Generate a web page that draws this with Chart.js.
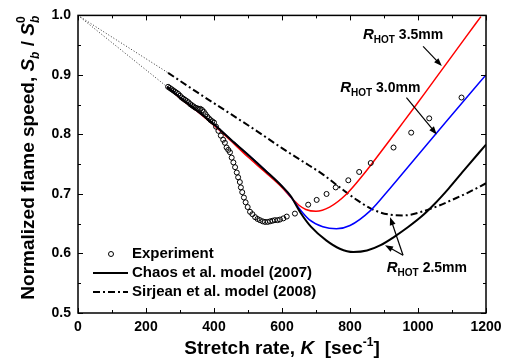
<!DOCTYPE html>
<html>
<head>
<meta charset="utf-8">
<script src="https://cdn.jsdelivr.net/npm/chart.js@4.4.0/dist/chart.umd.min.js"></script>
<style>
  html, body { margin: 0; padding: 0; background: #fff; }
  #wrap { width: 513px; height: 360px; }
</style>
</head>
<body>
<div id="wrap"><canvas id="chart" width="513" height="360"></canvas></div>
<script>
// experiment (circles)
var expK = [265, 270, 275, 280, 285, 290, 295, 300, 305, 310, 315, 320, 325, 330, 335, 340, 345, 350, 355, 360, 365, 370, 375, 380, 385, 390, 395, 400,
  406, 413, 420, 427, 432, 437, 442, 447, 452, 457, 462, 467, 471, 476, 479, 483, 488, 493, 499, 506, 513, 521, 528, 535, 543, 550, 558, 565, 572, 579, 587, 594, 604, 614, 638, 677, 702, 731, 758, 795, 827, 861, 928, 980, 1033, 1128];
var expV = [0.880, 0.878, 0.876, 0.874, 0.872, 0.870, 0.868, 0.865, 0.862, 0.860, 0.858, 0.856, 0.854, 0.851, 0.849, 0.847, 0.845, 0.844, 0.843, 0.843, 0.841, 0.838, 0.834, 0.830, 0.827, 0.824, 0.822, 0.820,
  0.813, 0.806, 0.798, 0.791, 0.786, 0.778, 0.774, 0.770, 0.761, 0.753, 0.745, 0.736, 0.728, 0.720, 0.711, 0.703, 0.694, 0.686, 0.678, 0.670, 0.666, 0.661, 0.658, 0.656, 0.654, 0.653, 0.653, 0.654, 0.655, 0.656, 0.656, 0.657, 0.659, 0.662, 0.667, 0.682, 0.690, 0.700, 0.711, 0.723, 0.737, 0.752, 0.778, 0.803, 0.827, 0.862];

// Chaos et al. model, R_HOT 2.5mm (black)
var chaosK = [262, 300, 350, 400, 450, 500, 550, 600, 625, 655, 685, 730, 770, 810, 850, 890, 930, 970, 1010, 1050, 1090, 1140, 1200];
var chaosV = [0.880, 0.862, 0.840, 0.817, 0.791, 0.766, 0.740, 0.713, 0.697, 0.668, 0.645, 0.622, 0.608, 0.6025, 0.605, 0.614, 0.628, 0.644, 0.662, 0.684, 0.709, 0.743, 0.783];

// R_HOT 3.0mm (blue)
var r30K = [262, 300, 350, 400, 450, 500, 550, 600, 625, 650, 680, 720, 760, 800, 860, 920, 970, 1020, 1085, 1140, 1200];
var r30V = [0.880, 0.862, 0.840, 0.817, 0.791, 0.766, 0.740, 0.713, 0.696, 0.676, 0.657, 0.645, 0.6415, 0.647, 0.672, 0.711, 0.745, 0.779, 0.823, 0.860, 0.900];

// R_HOT 3.5mm (red)
var r35K = [262, 300, 350, 400, 450, 500, 550, 600, 625, 650, 670, 700, 740, 790, 840, 890, 940, 990, 1040, 1090, 1140, 1185];
var r35V = [0.880, 0.861, 0.839, 0.815, 0.789, 0.762, 0.737, 0.711, 0.695, 0.681, 0.674, 0.671, 0.678, 0.700, 0.733, 0.770, 0.808, 0.846, 0.885, 0.924, 0.963, 0.998];

// Sirjean et al. model (dash-dot)
var sirK = [265, 350, 450, 525, 600, 660, 720, 770, 820, 870, 920, 960, 1010, 1060, 1100, 1150, 1200];
var sirV = [0.9035, 0.871, 0.834, 0.806, 0.777, 0.755, 0.733, 0.711, 0.690, 0.673, 0.665, 0.664, 0.670, 0.680, 0.690, 0.703, 0.718];

// dotted extrapolations to 1.0 at K = 0
var extUpK = [0, 265];
var extUpV = [1.0, 0.9035];
var extLoK = [0, 262];
var extLoV = [1.0, 0.880];

var xTicks = [0, 200, 400, 600, 800, 1000, 1200];
var yTicks = [0.5, 0.6, 0.7, 0.8, 0.9, 1.0];

var FONT = '"Liberation Sans", Arial, sans-serif';

function pts(k, v) {
  var out = [];
  for (var i = 0; i < k.length; i++) out.push({x: k[i], y: v[i]});
  return out;
}

function lineSet(k, v, color, width, dash) {
  return {
    data: pts(k, v),
    showLine: true,
    borderColor: color,
    borderWidth: width,
    borderDash: dash || [],
    pointRadius: 0,
    cubicInterpolationMode: 'monotone',
    fill: false
  };
}

function arrow(ctx, x1, y1, x2, y2) {
  var a = Math.atan2(y2 - y1, x2 - x1);
  var hl = 8, hw = 3;
  ctx.beginPath();
  ctx.moveTo(x1, y1);
  ctx.lineTo(x2 - Math.cos(a) * hl * 0.8, y2 - Math.sin(a) * hl * 0.8);
  ctx.stroke();
  ctx.beginPath();
  ctx.moveTo(x2, y2);
  ctx.lineTo(x2 - Math.cos(a) * hl + Math.sin(a) * hw, y2 - Math.sin(a) * hl - Math.cos(a) * hw);
  ctx.lineTo(x2 - Math.cos(a) * hl - Math.sin(a) * hw, y2 - Math.sin(a) * hl + Math.cos(a) * hw);
  ctx.closePath();
  ctx.fill();
}

// R_HOT label: italic R, small HOT subscript, then the value
function rhot(ctx, x, y, txt) {
  ctx.textAlign = 'left';
  ctx.textBaseline = 'alphabetic';
  ctx.font = 'italic bold 15px ' + FONT;
  ctx.fillText('R', x, y);
  x += ctx.measureText('R').width;
  ctx.font = 'bold 10px ' + FONT;
  ctx.fillText('HOT', x, y + 4);
  x += ctx.measureText('HOT').width + 4;
  ctx.font = 'bold 14px ' + FONT;
  ctx.fillText(txt, x, y);
}

var extras = {
  id: 'extras',
  afterDatasetsDraw: function(chart) {
    var ctx = chart.ctx, a = chart.chartArea;
    var xs = chart.scales.x, ys = chart.scales.y;
    ctx.save();
    ctx.strokeStyle = '#000';
    ctx.fillStyle = '#000';
    // frame
    ctx.lineWidth = 1.5;
    ctx.strokeRect(a.left, a.top, a.right - a.left, a.bottom - a.top);
    // inward ticks on all sides
    ctx.lineWidth = 1;
    ctx.beginPath();
    for (var k = 0; k <= 1200; k += 100) {
      var px = Math.round(xs.getPixelForValue(k)) + 0.5;
      var len = k % 200 === 0 ? 5 : 3;
      ctx.moveTo(px, a.bottom); ctx.lineTo(px, a.bottom - len);
      ctx.moveTo(px, a.top); ctx.lineTo(px, a.top + len);
    }
    for (var j = 0; j <= 10; j++) {
      var py = Math.round(ys.getPixelForValue(0.5 + j * 0.05)) + 0.5;
      var l2 = j % 2 === 0 ? 5 : 3;
      ctx.moveTo(a.left, py); ctx.lineTo(a.left + l2, py);
      ctx.moveTo(a.right, py); ctx.lineTo(a.right - l2, py);
    }
    ctx.stroke();

    // legend
    var lx = a.left + 15, tx = a.left + 54;
    ctx.font = 'bold 15px ' + FONT;
    ctx.textBaseline = 'middle';
    ctx.textAlign = 'left';
    ctx.beginPath();
    ctx.lineWidth = 1;
    ctx.arc(a.left + 33, 254, 2.5, 0, Math.PI * 2);
    ctx.stroke();
    ctx.fillText('Experiment', tx, 254);
    ctx.lineWidth = 2;
    ctx.beginPath();
    ctx.moveTo(lx, 273); ctx.lineTo(lx + 35, 273);
    ctx.stroke();
    ctx.fillText('Chaos et al. model (2007)', tx, 273);
    ctx.setLineDash([7, 3, 2, 3]);
    ctx.beginPath();
    ctx.moveTo(lx, 292); ctx.lineTo(lx + 35, 292);
    ctx.stroke();
    ctx.setLineDash([]);
    ctx.fillText('Sirjean et al. model (2008)', tx, 292);

    // annotations
    function P(k, v) { return [xs.getPixelForValue(k), ys.getPixelForValue(v)]; }
    var p;
    p = P(838, 0.960); rhot(ctx, p[0], p[1], '3.5mm');
    p = P(771, 0.871); rhot(ctx, p[0], p[1], '3.0mm');
    p = P(908, 0.5686); rhot(ctx, p[0], p[1], '2.5mm');
    ctx.lineWidth = 1.2;
    var s, e;
    s = P(1015, 0.948); e = P(1070, 0.915); arrow(ctx, s[0], s[1], e[0], e[1]);
    s = P(966, 0.862); e = P(1055, 0.800); arrow(ctx, s[0], s[1], e[0], e[1]);
    s = P(956, 0.597); e = P(918, 0.661); arrow(ctx, s[0], s[1], e[0], e[1]);
    e = P(903, 0.614); arrow(ctx, s[0], s[1], e[0], e[1]);

    // x axis title
    ctx.textBaseline = 'alphabetic';
    ctx.textAlign = 'left';
    var parts = [
      ['bold 19px ', 'Stretch rate, ', 0],
      ['italic bold 19px ', 'K', 0],
      ['bold 19px ', '  [sec', 0],
      ['bold 12px ', '-1', -8],
      ['bold 19px ', ']', 0]
    ];
    var w = 0, i;
    for (i = 0; i < parts.length; i++) { ctx.font = parts[i][0] + FONT; w += ctx.measureText(parts[i][1]).width; }
    var cx = (a.left + a.right) / 2 - w / 2;
    for (i = 0; i < parts.length; i++) {
      ctx.font = parts[i][0] + FONT;
      ctx.fillText(parts[i][1], cx, 354 + parts[i][2]);
      cx += ctx.measureText(parts[i][1]).width;
    }

    // y axis title (rotated)
    ctx.translate(34, 158);
    ctx.rotate(-Math.PI / 2);
    var yp = [
      ['bold 19px ', 'Normalized flame speed, ', 0, 1],
      ['italic bold 19px ', 'S', 0, 1],
      ['italic bold 12px ', 'b', 5, 1],
      ['bold 19px ', ' / ', 0, 1],
      ['italic bold 19px ', 'S', 0, 1],
      ['italic bold 12px ', 'b', 5, 0],
      ['bold 12px ', '0', -9, 1]
    ];
    w = 0;
    for (i = 0; i < yp.length; i++) { ctx.font = yp[i][0] + FONT; if (yp[i][3]) w += ctx.measureText(yp[i][1]).width; }
    cx = -w / 2;
    for (i = 0; i < yp.length; i++) {
      ctx.font = yp[i][0] + FONT;
      ctx.fillText(yp[i][1], cx, yp[i][2]);
      if (yp[i][3]) cx += ctx.measureText(yp[i][1]).width;
    }
    ctx.restore();
  }
};

new Chart(document.getElementById('chart'), {
  type: 'scatter',
  data: {
    datasets: [
      lineSet(extUpK, extUpV, '#333', 1, [1, 2]),
      lineSet(extLoK, extLoV, '#333', 1, [1, 2]),
      {
        data: pts(expK, expV),
        pointStyle: 'circle',
        pointRadius: 2.5,
        borderColor: '#000',
        borderWidth: 1,
        backgroundColor: 'rgba(0,0,0,0)',
        showLine: false
      },
      lineSet(chaosK, chaosV, '#000', 2),
      lineSet(r30K, r30V, '#0000ff', 1.5),
      lineSet(r35K, r35V, '#ff0000', 1.5),
      lineSet(sirK, sirV, '#000', 2, [7, 3, 2, 3])
    ]
  },
  options: {
    responsive: false,
    animation: false,
    events: [],
    layout: { padding: { top: 14, right: 27, left: 0, bottom: 0 } },
    plugins: { legend: { display: false }, tooltip: { enabled: false } },
    scales: {
      x: {
        type: 'linear', min: 0, max: 1200,
        afterBuildTicks: function(s) { s.ticks = xTicks.map(function(v) { return {value: v}; }); },
        afterFit: function(s) { s.height = 47; },
        grid: { display: false, drawTicks: false },
        border: { display: false },
        ticks: { color: '#000', padding: 6, maxRotation: 0, font: { family: FONT, size: 14, weight: 'bold' },
          callback: function(v) { return String(v); } }
      },
      y: {
        type: 'linear', min: 0.5, max: 1.0,
        afterBuildTicks: function(s) { s.ticks = yTicks.map(function(v) { return {value: v}; }); },
        afterFit: function(s) { s.width = 78; },
        grid: { display: false, drawTicks: false },
        border: { display: false },
        ticks: { color: '#000', padding: 7, font: { family: FONT, size: 14, weight: 'bold' },
          callback: function(v) { return v.toFixed(1); } }
      }
    }
  },
  plugins: [extras]
});
</script>
</body>
</html>
